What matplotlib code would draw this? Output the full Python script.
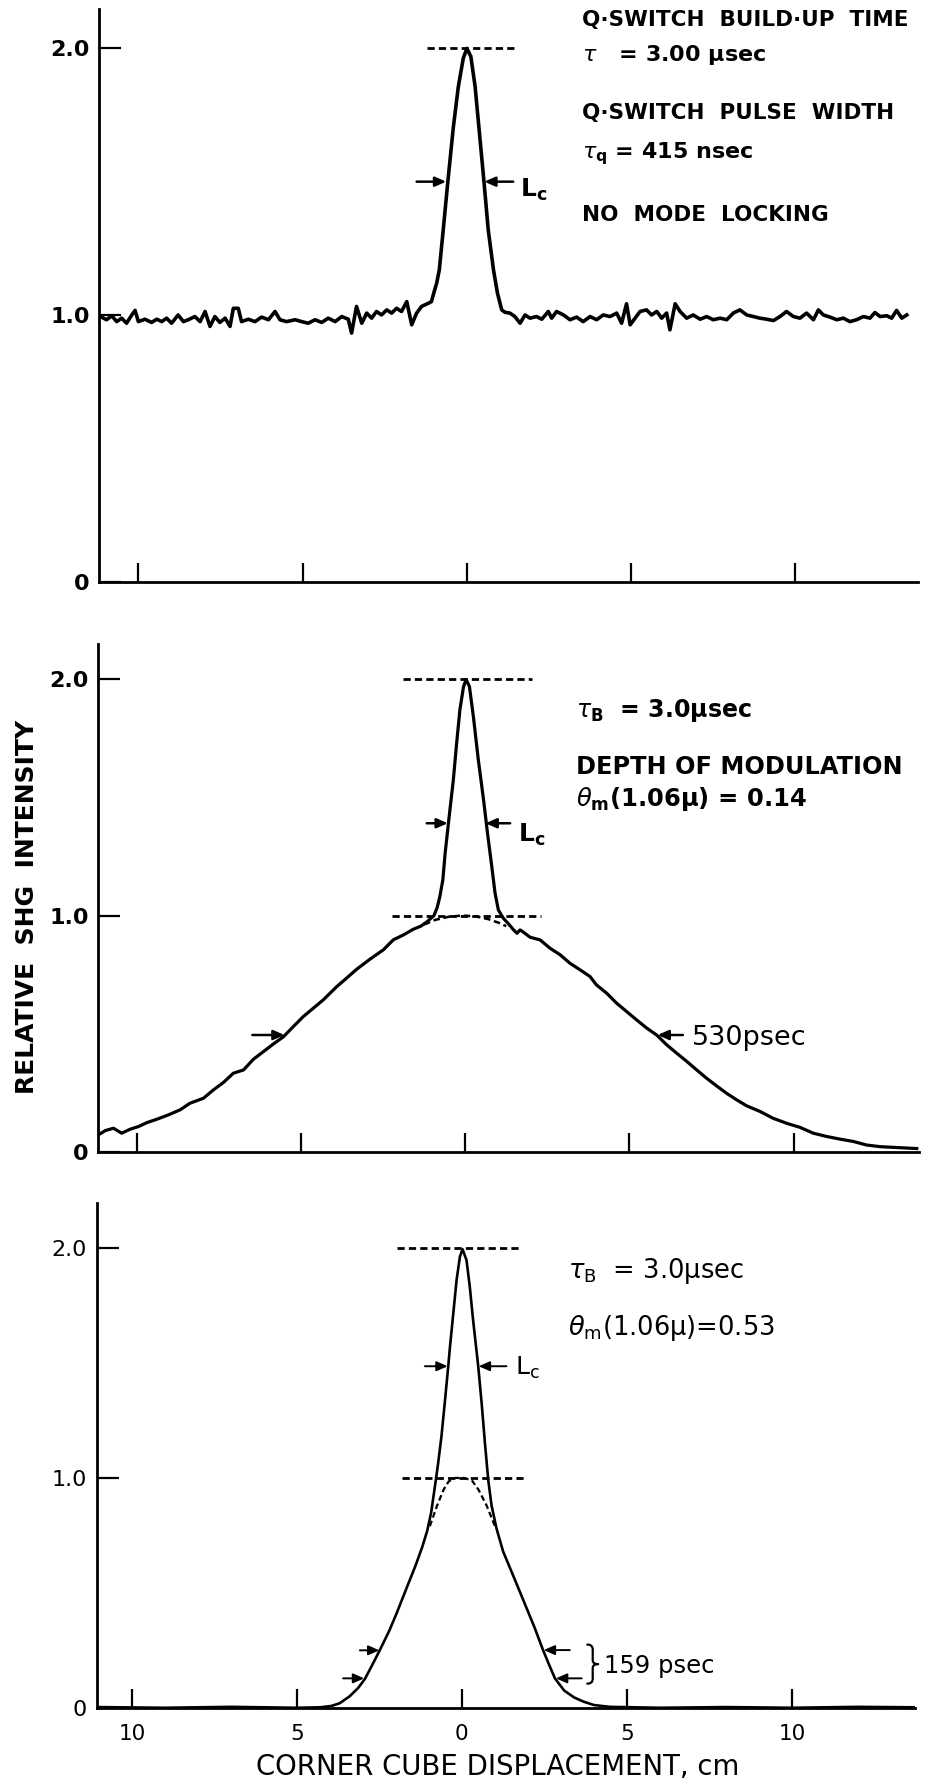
import matplotlib
matplotlib.use("Agg")
import matplotlib.pyplot as plt
from matplotlib.path import Path
from matplotlib.patches import PathPatch

plt.rcParams['font.family'] = ['DejaVu Sans']
plt.rcParams['mathtext.fontset'] = 'dejavusans'

# ---------------- data ----------------
x_ticks = [-10, -5, 0, 5, 10]
x_ticklabels = ["10", "5", "0", "5", "10"]
y_ticks = [0, 1, 2]
y_ticklabels = ["0", "1.0", "2.0"]

# Panel 1: no mode locking
p1_x = [-11.12, -10.97, -10.81, -10.66, -10.51, -10.36, -10.20, -10.10, -10.00, -9.80,
        -9.60, -9.44, -9.29, -9.14, -8.99, -8.79, -8.63, -8.48, -8.28, -8.12,
        -7.97, -7.82, -7.67, -7.52, -7.36, -7.21, -7.11, -6.96, -6.86, -6.65,
        -6.45, -6.25, -6.04, -5.84, -5.69, -5.49, -5.23, -5.03, -4.83, -4.62,
        -4.42, -4.22, -4.01, -3.81, -3.61, -3.51, -3.36, -3.20, -3.05, -2.90,
        -2.75, -2.60, -2.44, -2.29, -2.14, -1.99, -1.83, -1.68, -1.53, -1.38,
        -1.17, -1.08, -0.99, -0.92, -0.84, -0.72, -0.58, -0.41, -0.26, -0.11,
        0.00, 0.12, 0.25, 0.40, 0.52, 0.65, 0.81, 0.93, 1.06, 1.16,
        1.31, 1.46, 1.62, 1.77, 1.92, 2.12, 2.28, 2.48, 2.58, 2.73,
        2.94, 3.14, 3.34, 3.54, 3.75, 3.95, 4.15, 4.36, 4.56, 4.71,
        4.86, 4.97, 5.12, 5.27, 5.47, 5.62, 5.78, 5.93, 6.08, 6.18,
        6.34, 6.49, 6.69, 6.89, 7.10, 7.30, 7.50, 7.71, 7.91, 8.11,
        8.31, 8.52, 8.72, 8.92, 9.13, 9.33, 9.53, 9.73, 9.94, 10.14,
        10.34, 10.55, 10.70, 10.85, 11.05, 11.26, 11.46, 11.66, 11.86, 12.07,
        12.27, 12.42, 12.58, 12.78, 12.93, 13.08, 13.24, 13.39]
p1_y = [0.992, 0.982, 0.997, 0.975, 0.988, 0.969, 1.000, 1.017, 0.975, 0.984,
        0.972, 0.984, 0.975, 0.988, 0.969, 1.000, 0.975, 0.982, 0.994, 0.975,
        1.013, 0.957, 0.994, 0.972, 0.988, 0.957, 1.025, 1.025, 0.975, 0.984,
        0.975, 0.992, 0.982, 1.013, 0.982, 0.975, 0.982, 0.975, 0.969, 0.982,
        0.972, 0.988, 0.975, 0.994, 0.984, 0.932, 1.032, 0.969, 1.007, 0.988,
        1.013, 1.000, 1.019, 1.007, 1.025, 1.013, 1.050, 0.963, 1.007, 1.032,
        1.044, 1.050, 1.090, 1.119, 1.169, 1.319, 1.500, 1.707, 1.857, 1.963,
        2.000, 1.970, 1.857, 1.657, 1.500, 1.319, 1.169, 1.082, 1.019, 1.010,
        1.007, 0.994, 0.969, 1.000, 0.988, 0.994, 0.984, 1.013, 0.988, 1.013,
        1.000, 0.982, 0.992, 0.975, 0.994, 0.982, 1.000, 0.994, 1.007, 0.969,
        1.042, 0.963, 0.988, 1.013, 1.019, 1.000, 1.013, 0.988, 1.007, 0.944,
        1.042, 1.013, 0.988, 1.000, 0.984, 0.994, 0.982, 0.988, 0.982, 1.007,
        1.019, 1.000, 0.994, 0.988, 0.984, 0.979, 0.994, 1.013, 0.994, 0.988,
        1.007, 0.982, 1.019, 1.000, 0.992, 0.982, 0.988, 0.975, 0.982, 0.994,
        0.988, 1.009, 0.994, 0.997, 0.988, 1.017, 0.988, 1.000]

# Panel 2: depth of modulation 0.14
p2_x = [-11.17, -10.96, -10.71, -10.46, -10.20, -9.95, -9.69, -9.39, -9.03, -8.68,
        -8.38, -7.97, -7.67, -7.36, -7.06, -6.75, -6.45, -6.14, -5.84, -5.53,
        -5.23, -4.93, -4.62, -4.32, -3.91, -3.61, -3.30, -2.90, -2.49, -2.19,
        -1.88, -1.58, -1.35, -1.15, -0.95, -0.85, -0.77, -0.68, -0.61, -0.51,
        -0.36, -0.26, -0.16, -0.05, 0.03, 0.13, 0.25, 0.40, 0.56, 0.68,
        0.81, 0.91, 1.01, 1.16, 1.32, 1.47, 1.58, 1.67, 1.72, 1.98,
        2.28, 2.58, 2.89, 3.19, 3.50, 3.80, 4.00, 4.31, 4.61, 4.92,
        5.22, 5.53, 5.83, 6.14, 6.44, 6.75, 7.05, 7.35, 7.66, 7.96,
        8.27, 8.57, 8.98, 9.38, 9.79, 10.19, 10.60, 11.01, 11.41, 11.82,
        12.22, 12.63, 13.04, 13.75]
p2_y = [0.071, 0.089, 0.099, 0.078, 0.095, 0.106, 0.123, 0.137, 0.156, 0.177,
        0.205, 0.226, 0.261, 0.293, 0.332, 0.346, 0.391, 0.424, 0.456, 0.487,
        0.530, 0.572, 0.608, 0.643, 0.699, 0.735, 0.773, 0.815, 0.855, 0.897,
        0.918, 0.942, 0.955, 0.975, 1.000, 1.035, 1.081, 1.151, 1.264, 1.391,
        1.575, 1.730, 1.872, 1.970, 2.000, 1.970, 1.843, 1.660, 1.490, 1.349,
        1.208, 1.095, 1.024, 0.989, 0.965, 0.940, 0.925, 0.939, 0.935, 0.908,
        0.897, 0.862, 0.834, 0.798, 0.770, 0.742, 0.706, 0.671, 0.629, 0.593,
        0.558, 0.523, 0.494, 0.452, 0.417, 0.382, 0.346, 0.311, 0.278, 0.247,
        0.219, 0.194, 0.170, 0.141, 0.120, 0.103, 0.078, 0.064, 0.053, 0.043,
        0.028, 0.021, 0.018, 0.013]
p2_dash_x = [-1.25, -0.90, -0.50, -0.10, 0.30, 0.70, 1.05, 1.25]
p2_dash_y = [0.962, 0.982, 0.995, 1.000, 0.997, 0.985, 0.968, 0.955]

# Panel 3: depth of modulation 0.53
p3_x = [-11.07, -9.0, -7.0, -5.0, -4.3, -3.95, -3.70, -3.40, -3.15, -2.94,
        -2.72, -2.49, -2.20, -1.98, -1.65, -1.40, -1.20, -1.05, -0.93, -0.85,
        -0.79, -0.72, -0.62, -0.52, -0.41, -0.36, -0.26, -0.16, -0.06, 0.02,
        0.14, 0.24, 0.34, 0.495, 0.60, 0.70, 0.80, 0.90, 1.05, 1.25,
        1.61, 2.00, 2.20, 2.46, 2.65, 2.82, 3.10, 3.40, 3.68, 4.00,
        4.48, 6.0, 8.0, 10.0, 12.0, 13.73]
p3_y = [0.003, 0.000, 0.004, 0.000, 0.002, 0.008, 0.020, 0.050, 0.085, 0.125,
        0.185, 0.250, 0.335, 0.410, 0.530, 0.620, 0.700, 0.770, 0.850, 0.930,
        0.990, 1.063, 1.179, 1.324, 1.490, 1.571, 1.716, 1.861, 1.962, 1.995,
        1.948, 1.832, 1.687, 1.487, 1.324, 1.150, 0.990, 0.880, 0.780, 0.680,
        0.556, 0.420, 0.350, 0.251, 0.185, 0.128, 0.075, 0.045, 0.027, 0.012,
        0.004, 0.000, 0.003, 0.000, 0.004, 0.002]
p3_dash_x = [-0.97, -0.75, -0.55, -0.40, -0.20, 0.05, 0.30, 0.50, 0.75, 1.03]
p3_dash_y = [0.79, 0.88, 0.95, 0.985, 1.00, 1.00, 0.99, 0.95, 0.88, 0.78]

# horizontal dashed reference lines: (level, x_start, x_end)
p1_hlines = [(2.0, -1.22, 1.42)]
p2_hlines = [(2.0, -1.88, 2.02), (1.0, -2.24, 2.30)]
p3_hlines = [(2.0, -1.97, 1.83), (1.0, -1.82, 1.98)]

# arrows: (tail_x, tip_x, y)
p1_arrows = [(-1.53, -0.63, 1.50), (1.41, 0.53, 1.50)]
p2_arrows = [(-1.17, -0.53, 1.391), (1.37, 0.62, 1.391),
             (-6.48, -5.50, 0.494), (6.63, 5.86, 0.494)]
p3_arrows = [(-1.12, -0.43, 1.486), (1.35, 0.51, 1.486),
             (-3.09, -2.50, 0.250), (-3.60, -2.96, 0.128),
             (3.27, 2.48, 0.251), (3.63, 2.85, 0.128)]

# brace in panel 3: (x_left, y_bottom, y_top, width)
p3_brace = (3.80, 0.105, 0.275, 0.33)

# ---------------- figure ----------------
fig = plt.figure(figsize=(9.42, 17.86), dpi=100)

axes_specs = [
    dict(rect=[0.1054, 0.6744, 0.8687, 0.3203], xlim=(-11.19, 13.72), ylim=(0, 2.146), lw=2.6),
    dict(rect=[0.1044, 0.3552, 0.8712, 0.2843], xlim=(-11.17, 13.82), ylim=(0, 2.151), lw=2.3),
    dict(rect=[0.1025, 0.0438, 0.8688, 0.2826], xlim=(-11.07, 13.73), ylim=(0, 2.196), lw=1.9),
]

axs = []
for i, spec in enumerate(axes_specs):
    ax = fig.add_axes(spec['rect'])
    ax.set_xlim(*spec['xlim'])
    ax.set_ylim(*spec['ylim'])
    for s in ('top', 'right'):
        ax.spines[s].set_visible(False)
    for s in ('left', 'bottom'):
        ax.spines[s].set_linewidth(2.0)
    ax.set_xticks(x_ticks)
    if i == 2:
        ax.set_xticklabels(x_ticklabels)
    else:
        ax.set_xticklabels([])
    ax.set_yticks(y_ticks)
    ax.set_yticklabels(y_ticklabels, fontweight='bold' if i < 2 else 'normal')
    ax.tick_params(axis='x', direction='in', length=14, width=1.6, labelsize=15.5, pad=12)
    ax.tick_params(axis='y', direction='in', length=16, width=1.6, labelsize=16, pad=7)
    axs.append(ax)

ax1, ax2, ax3 = axs
dash_style = (0, (2.6, 1.5))


def draw_hlines(ax, hl):
    for lev, xa, xb in hl:
        ax.plot([xa, xb], [lev, lev], color='black', lw=2.0, linestyle=dash_style)


def draw_arrows(ax, arr, lw=1.8):
    for tail, tip, y in arr:
        ax.annotate('', xy=(tip, y), xytext=(tail, y),
                    arrowprops=dict(arrowstyle='-|>,head_length=0.5,head_width=0.22',
                                    color='black', lw=lw, shrinkA=0, shrinkB=0,
                                    mutation_scale=13))


def draw_brace(ax, spec, lw=1.6):
    x0, yb, yt, w = spec
    ym = (yb + yt) / 2
    xm = x0 + w * 0.5
    verts = [(x0, yt), (xm, yt), (xm, yt - 0.25 * (yt - ym)),
             (xm, ym + 0.2 * (yt - ym)),
             (xm, ym), (x0 + w, ym),
             (xm, ym), (xm, ym - 0.2 * (ym - yb)),
             (xm, yb + 0.25 * (ym - yb)),
             (xm, yb), (x0, yb)]
    codes = [Path.MOVETO, Path.CURVE3, Path.CURVE3, Path.LINETO,
             Path.CURVE3, Path.CURVE3,
             Path.CURVE3, Path.CURVE3,
             Path.LINETO,
             Path.CURVE3, Path.CURVE3]
    ax.add_patch(PathPatch(Path(verts, codes), fill=False, lw=lw, color='black',
                           capstyle='round', joinstyle='round'))


# Panel 1
ax1.plot(p1_x, p1_y, color='black', lw=axes_specs[0]['lw'], solid_joinstyle='round')
draw_hlines(ax1, p1_hlines)
draw_arrows(ax1, p1_arrows)
ax1.text(1.62, 1.443, r"L$_\mathbf{c}$", fontsize=18, fontweight='bold', va='baseline')
t1x = 3.50
ax1.text(t1x, 2.084, "Q·SWITCH  BUILD·UP  TIME", fontsize=15.5, fontweight='bold', va='baseline')
ax1.text(t1x, 1.952, r"$\tau$   = 3.00 μsec", fontsize=16, fontweight='bold', va='baseline')
ax1.text(t1x, 1.735, "Q·SWITCH  PULSE  WIDTH", fontsize=15.5, fontweight='bold', va='baseline')
ax1.text(t1x, 1.587, r"$\tau_\mathbf{q}$ = 415 nsec", fontsize=16, fontweight='bold', va='baseline')
ax1.text(t1x, 1.352, "NO  MODE  LOCKING", fontsize=15.5, fontweight='bold', va='baseline')

# Panel 2
ax2.plot(p2_x, p2_y, color='black', lw=axes_specs[1]['lw'], solid_joinstyle='round')
ax2.plot(p2_dash_x, p2_dash_y, color='black', lw=1.8, linestyle=dash_style)
draw_hlines(ax2, p2_hlines)
draw_arrows(ax2, p2_arrows)
ax2.text(1.61, 1.312, r"L$_\mathbf{c}$", fontsize=18, fontweight='bold', va='baseline')
t2x = 3.38
ax2.text(t2x, 1.842, r"$\tau_\mathbf{B}$  = 3.0μsec", fontsize=17, fontweight='bold', va='baseline')
ax2.text(t2x, 1.600, "DEPTH OF MODULATION", fontsize=17.3, fontweight='bold', va='baseline')
ax2.text(t2x, 1.465, r"$\theta_\mathbf{m}$(1.06μ) = 0.14", fontsize=17.5, fontweight='bold', va='baseline')
ax2.text(6.90, 0.452, "530psec", fontsize=19.5, va='baseline')

# Panel 3
ax3.plot(p3_x, p3_y, color='black', lw=axes_specs[2]['lw'], solid_joinstyle='round')
ax3.plot(p3_dash_x, p3_dash_y, color='black', lw=1.6, linestyle=dash_style)
draw_hlines(ax3, p3_hlines)
draw_arrows(ax3, p3_arrows, lw=1.4)
draw_brace(ax3, p3_brace)
ax3.text(1.62, 1.45, r"L$_\mathrm{c}$", fontsize=18, va='baseline')
t3x = 3.21
ax3.text(t3x, 1.87, r"$\tau_\mathrm{B}$  = 3.0μsec", fontsize=18.5, va='baseline')
ax3.text(t3x, 1.62, r"$\theta_\mathrm{m}$(1.06μ)=0.53", fontsize=18.5, va='baseline')
ax3.text(4.30, 0.151, "159 psec", fontsize=17.5, va='baseline')

# Axis titles
fig.text(27 / 942, 1 - 907 / 1786, "RELATIVE  SHG  INTENSITY", rotation=90,
         fontsize=18, fontweight='bold', ha='center', va='center')
fig.text(498 / 942, 1 - 1767 / 1786, "CORNER CUBE DISPLACEMENT, cm",
         fontsize=19.8, ha='center', va='center')

fig.savefig("out.png", dpi=100)
